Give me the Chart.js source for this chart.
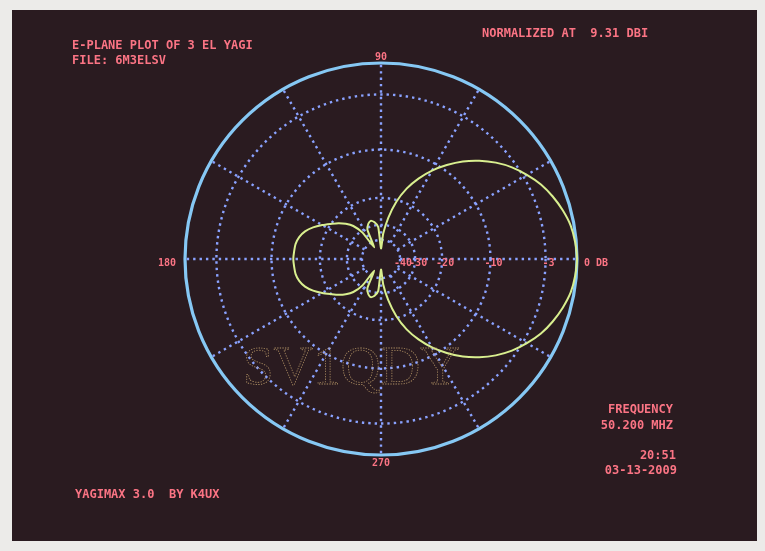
<!DOCTYPE html>
<html>
<head>
<meta charset="utf-8">
<title>E-plane plot of 3 el Yagi</title>
<script src="https://cdn.jsdelivr.net/npm/chart.js@4.4.1/dist/chart.umd.min.js"></script>
<style>
  html, body { margin: 0; padding: 0; background: #ecebe9; }
  #screen { position: absolute; left: 12px; top: 10px; width: 745px; height: 531px; background: #2a1b20; }
  #wrap { position: absolute; left: 0; top: 0; width: 765px; height: 551px; }
</style>
</head>
<body>
<div id="screen"></div>
<div id="wrap"><canvas id="pattern"></canvas></div>
<script>
// bearing in degrees, 0 = forward, counter-clockwise
const angles = [
    0,   5,  10,  15,  20,  25,  30,  35,  40,  45,  50,  55,
   60,  65,  70,  75,  80,  85,  90,  95, 100, 105, 110, 115,
  120, 125, 130, 135, 140, 145, 150, 155, 160, 165, 170, 175,
  180, 185, 190, 195, 200, 205, 210, 215, 220, 225, 230, 235,
  240, 245, 250, 255, 260, 265, 270, 275, 280, 285, 290, 295,
  300, 305, 310, 315, 320, 325, 330, 335, 340, 345, 350, 355
];

// E-plane gain relative to the forward peak (dB)
const gainDb = [
    0.0,  -0.1,  -0.3,  -0.7,  -1.2,  -1.8,  -2.6,  -3.5,  -4.6,  -5.9,  -7.4,  -9.2,
  -11.2, -13.6, -16.5, -20.5, -26.5, -35.0, -50.0, -31.0, -28.5, -27.5, -28.5, -31.0,
  -46.0, -31.0, -26.0, -23.5, -21.6, -20.0, -18.2, -16.5, -15.2, -14.4, -14.0, -13.9,
  -13.8, -13.9, -14.0, -14.4, -15.2, -16.5, -18.2, -20.0, -21.6, -23.5, -26.0, -31.0,
  -46.0, -31.0, -28.5, -27.5, -28.5, -31.0, -50.0, -35.0, -26.5, -20.5, -16.5, -13.6,
  -11.2,  -9.2,  -7.4,  -5.9,  -4.6,  -3.5,  -2.6,  -1.8,  -1.2,  -0.7,  -0.3,  -0.1
];

// dB rings and their labels along the 0 degree line
const ringDb = [-40, -30, -20, -10, -3, 0];
const ringLabels = ['-40', '-30', '-20', '-10', '-3', '0 DB'];

// bearings labelled at the rim, spoke spacing
const rimAngles = [90, 180, 270];
const rimLabels = ['90', '180', '270'];
const spokeStep = 30;

const PINK = '#fb7484';
const DOTS = '#8aa2ff';
const RIM = '#86c8f4';
const TRACE = '#d9ef8f';

// ARRL log-periodic radius: every 2 dB down is 0.89 of the radius
function logRadius(db) {
  return Math.pow(0.89, -db / 2);
}

// radar goes clockwise from the right, so walk the bearings backwards
const n = angles.length;
const order = angles.map((_, i) => (n - i) % n);
const radarLabels = order.map(k => angles[k]);
const radarDb = order.map(k => gainDb[k]);
const radarValues = radarDb.map(logRadius);

// dotted spokes start at the innermost ring
function spokeDash(scale) {
  if (!scale || !scale.drawingArea) return [2.4, 4];
  const start = scale.getDistanceFromCenterForValue(logRadius(ringDb[0]));
  const dash = [0, start];
  for (let d = start; d < scale.drawingArea + 12; d += 6.4) dash.push(2.4, 4);
  return dash;
}

const screenText = {
  id: 'screenText',
  afterDraw(chart) {
    const ctx = chart.ctx;
    const s = chart.scales.r;
    const cx = s.xCenter, cy = s.yCenter, R = s.drawingArea;
    ctx.save();
    ctx.fillStyle = PINK;
    ctx.textBaseline = 'middle';

    ctx.font = 'bold 12px "DejaVu Sans Mono"';
    ctx.textAlign = 'left';
    ctx.fillText('E-PLANE PLOT OF 3 EL YAGI', 72, 46);
    ctx.fillText('FILE: 6M3ELSV', 72, 61);
    ctx.fillText('NORMALIZED AT  9.31 DBI', 482, 34);
    ctx.fillText('YAGIMAX 3.0  BY K4UX', 75, 495);
    ctx.textAlign = 'right';
    ctx.fillText('FREQUENCY', 673, 410);
    ctx.fillText('50.200 MHZ', 673, 426);
    ctx.fillText('20:51', 676, 456);
    ctx.fillText('03-13-2009', 677, 471);

    // ring values along the forward axis
    ctx.font = 'bold 10px "DejaVu Sans Mono"';
    ringDb.forEach((d, i) => {
      const r = s.getDistanceFromCenterForValue(logRadius(d));
      if (i === ringDb.length - 1) {
        ctx.textAlign = 'left';
        ctx.fillText(ringLabels[i], cx + r + 7, cy + 4);
      } else {
        ctx.textAlign = 'center';
        ctx.fillText(ringLabels[i], cx + r + 3, cy + 4);
      }
    });

    // bearings at the rim
    rimAngles.forEach((a, i) => {
      const idx = radarLabels.indexOf(a);
      if (a === 180) {
        const p = s.getPointPosition(idx, R + 9);
        ctx.textAlign = 'right';
        ctx.fillText(rimLabels[i], p.x, p.y + 4);
      } else {
        const p = s.getPointPosition(idx, R + (a === 90 ? 6 : 8));
        ctx.textAlign = 'center';
        ctx.fillText(rimLabels[i], p.x, p.y);
      }
    });

    // outlined call sign across the lower half
    ctx.font = '55px "Liberation Serif"';
    ctx.textAlign = 'left';
    ctx.textBaseline = 'alphabetic';
    ctx.lineWidth = 0.8;
    ctx.setLineDash([1.3, 1.3]);
    ctx.strokeStyle = 'rgba(200, 166, 112, 0.8)';
    ctx.strokeText('SV1QDY', 243, 384);
    ctx.restore();
  }
};

new Chart(document.getElementById('pattern'), {
  type: 'radar',
  data: {
    labels: radarLabels,
    datasets: [{
      data: radarValues,
      borderColor: TRACE,
      borderWidth: 2,
      pointRadius: 0,
      fill: false,
      tension: 0.2,
      clip: false,
      segment: {
        borderColor: c => (radarDb[c.p0DataIndex] < -25 && radarDb[c.p1DataIndex] < -25) ? '#c6f1e2' : undefined
      }
    }]
  },
  options: {
    responsive: true,
    maintainAspectRatio: false,
    animation: false,
    layout: { padding: { left: 185, right: 188, top: 63, bottom: 96 } },
    plugins: { legend: { display: false }, tooltip: { enabled: false } },
    scales: {
      r: {
        min: 0,
        max: 1,
        startAngle: 90,
        afterBuildTicks: s => {
          s.ticks = [{ value: 0 }].concat(ringDb.map(d => ({ value: logRadius(d) })));
        },
        ticks: { display: false },
        pointLabels: { display: false },
        grid: {
          circular: true,
          color: c => c.index === ringDb.length ? RIM : DOTS,
          lineWidth: c => c.index === ringDb.length ? 3.2 : 2.4
        },
        border: {
          dash: c => c.index === ringDb.length ? [] : [2.4, 4]
        },
        angleLines: {
          color: DOTS,
          lineWidth: c => radarLabels[c.index] % spokeStep === 0 ? 2.4 : 0,
          borderDash: c => spokeDash(c.chart.scales.r)
        }
      }
    }
  },
  plugins: [screenText]
});
</script>
</body>
</html>
